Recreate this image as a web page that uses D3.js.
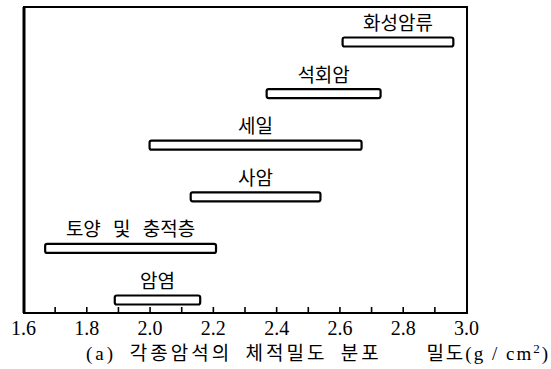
<!DOCTYPE html>
<html>
<head>
<meta charset="utf-8">
<script src="https://cdn.jsdelivr.net/npm/d3@7"></script>
<style>
  html, body { margin: 0; padding: 0; background: #fff; }
  svg { display: block; }
</style>
</head>
<body>
<svg id="chart" width="551" height="369"></svg>
<script>
// ---- data ----
const categories = ["화성암류", "석회암", "세일", "사암", "토양 및 충적층", "암염"];
const minDensity = [2.61, 2.37, 2.00, 2.13, 1.67, 1.89];
const maxDensity = [2.96, 2.73, 2.67, 2.54, 2.21, 2.16];
const majorTicks = [1.6, 1.8, 2.0, 2.2, 2.4, 2.6, 2.8, 3.0];
const minorTicks = [1.7, 1.9, 2.1, 2.3, 2.5, 2.7, 2.9];
const tickLabels = ["1.6", "1.8", "2.0", "2.2", "2.4", "2.6", "2.8", "3.0"];
const caption = "각종암석의 체적밀도 분포";
const axisTitle = "밀도";

const rows = categories.map((c, i) => ({ name: c, lo: minDensity[i], hi: maxDensity[i] }));

// ---- layout ----
const svg = d3.select("#chart");
const frame = { left: 24, right: 467, top: 7, bottom: 313 };

const x = d3.scaleLinear().domain([1.6, 3.0]).range([23, 466]);
const y = d3.scalePoint().domain(categories).range([42, 300]);
const barH = 9;

// frame
svg.append("rect")
  .attr("x", frame.left).attr("y", frame.top)
  .attr("width", frame.right - frame.left).attr("height", frame.bottom - frame.top)
  .attr("fill", "none").attr("stroke", "#000").attr("stroke-width", 2);
svg.append("line")
  .attr("x1", frame.left).attr("x2", frame.left)
  .attr("y1", frame.top).attr("y2", frame.bottom)
  .attr("stroke", "#000").attr("stroke-width", 3);

// inward ticks at every 0.1
const allTicks = majorTicks.concat(minorTicks).sort((a, b) => a - b);
const tickAxis = d3.axisBottom(x)
  .tickValues(allTicks.filter(v => v > 1.65 && v < 2.95))
  .tickSizeInner(-6)
  .tickSizeOuter(0)
  .tickFormat("");
const gTicks = svg.append("g")
  .attr("transform", `translate(0,${frame.bottom})`)
  .call(tickAxis);
gTicks.select(".domain").remove();
gTicks.selectAll(".tick line").attr("stroke", "#000").attr("stroke-width", 1.6);
gTicks.selectAll(".tick text").remove();

// labels at major ticks
const labelAxis = d3.axisBottom(x)
  .tickValues(majorTicks)
  .tickSize(0)
  .tickPadding(8)
  .tickFormat((v, i) => tickLabels[i]);
const gLabels = svg.append("g")
  .attr("transform", `translate(0,${frame.bottom})`)
  .call(labelAxis);
gLabels.select(".domain").remove();
gLabels.selectAll(".tick line").remove();
gLabels.selectAll(".tick text")
  .attr("font-family", "'Liberation Serif', 'DejaVu Serif', serif")
  .attr("font-size", 20)
  .attr("fill", "#000");

// bars
svg.append("g").selectAll("rect")
  .data(rows).join("rect")
  .attr("x", d => x(d.lo))
  .attr("y", d => y(d.name) - barH / 2)
  .attr("width", d => x(d.hi) - x(d.lo))
  .attr("height", barH)
  .attr("rx", 2).attr("ry", 2)
  .attr("fill", "#fff")
  .attr("stroke", "#000")
  .attr("stroke-width", 2.2);

// bar labels
svg.append("g").selectAll("text")
  .data(rows).join("text")
  .attr("x", d => (x(d.lo) + x(d.hi)) / 2)
  .attr("y", d => y(d.name) - 12)
  .attr("text-anchor", "middle")
  .attr("font-family", "'Noto Sans CJK KR', sans-serif")
  .attr("font-size", 19)
  .attr("word-spacing", 8)
  .attr("fill", "#000")
  .text(d => d.name);

// caption
const cap = svg.append("text")
  .attr("x", 86).attr("y", 360)
  .attr("font-family", "'Noto Sans CJK KR', sans-serif")
  .attr("font-size", 19)
  .attr("letter-spacing", 3)
  .attr("word-spacing", 6)
  .attr("fill", "#000");
cap.append("tspan")
  .attr("font-family", "'Liberation Serif', serif")
  .text("(a) ");
cap.append("tspan").text(caption);

// axis title
const at = svg.append("text")
  .attr("x", 550).attr("y", 360)
  .attr("text-anchor", "end")
  .attr("font-family", "'Noto Sans CJK KR', sans-serif")
  .attr("font-size", 19)
  .attr("letter-spacing", 2)
  .attr("fill", "#000");
at.append("tspan").text(axisTitle);
at.append("tspan").attr("font-family", "'Liberation Serif', serif").text("(g / cm");
at.append("tspan").attr("font-family", "'Liberation Serif', serif")
  .attr("font-size", 13).attr("dy", -7).text("2");
at.append("tspan").attr("font-family", "'Liberation Serif', serif")
  .attr("dy", 7).text(")");
</script>
</body>
</html>
